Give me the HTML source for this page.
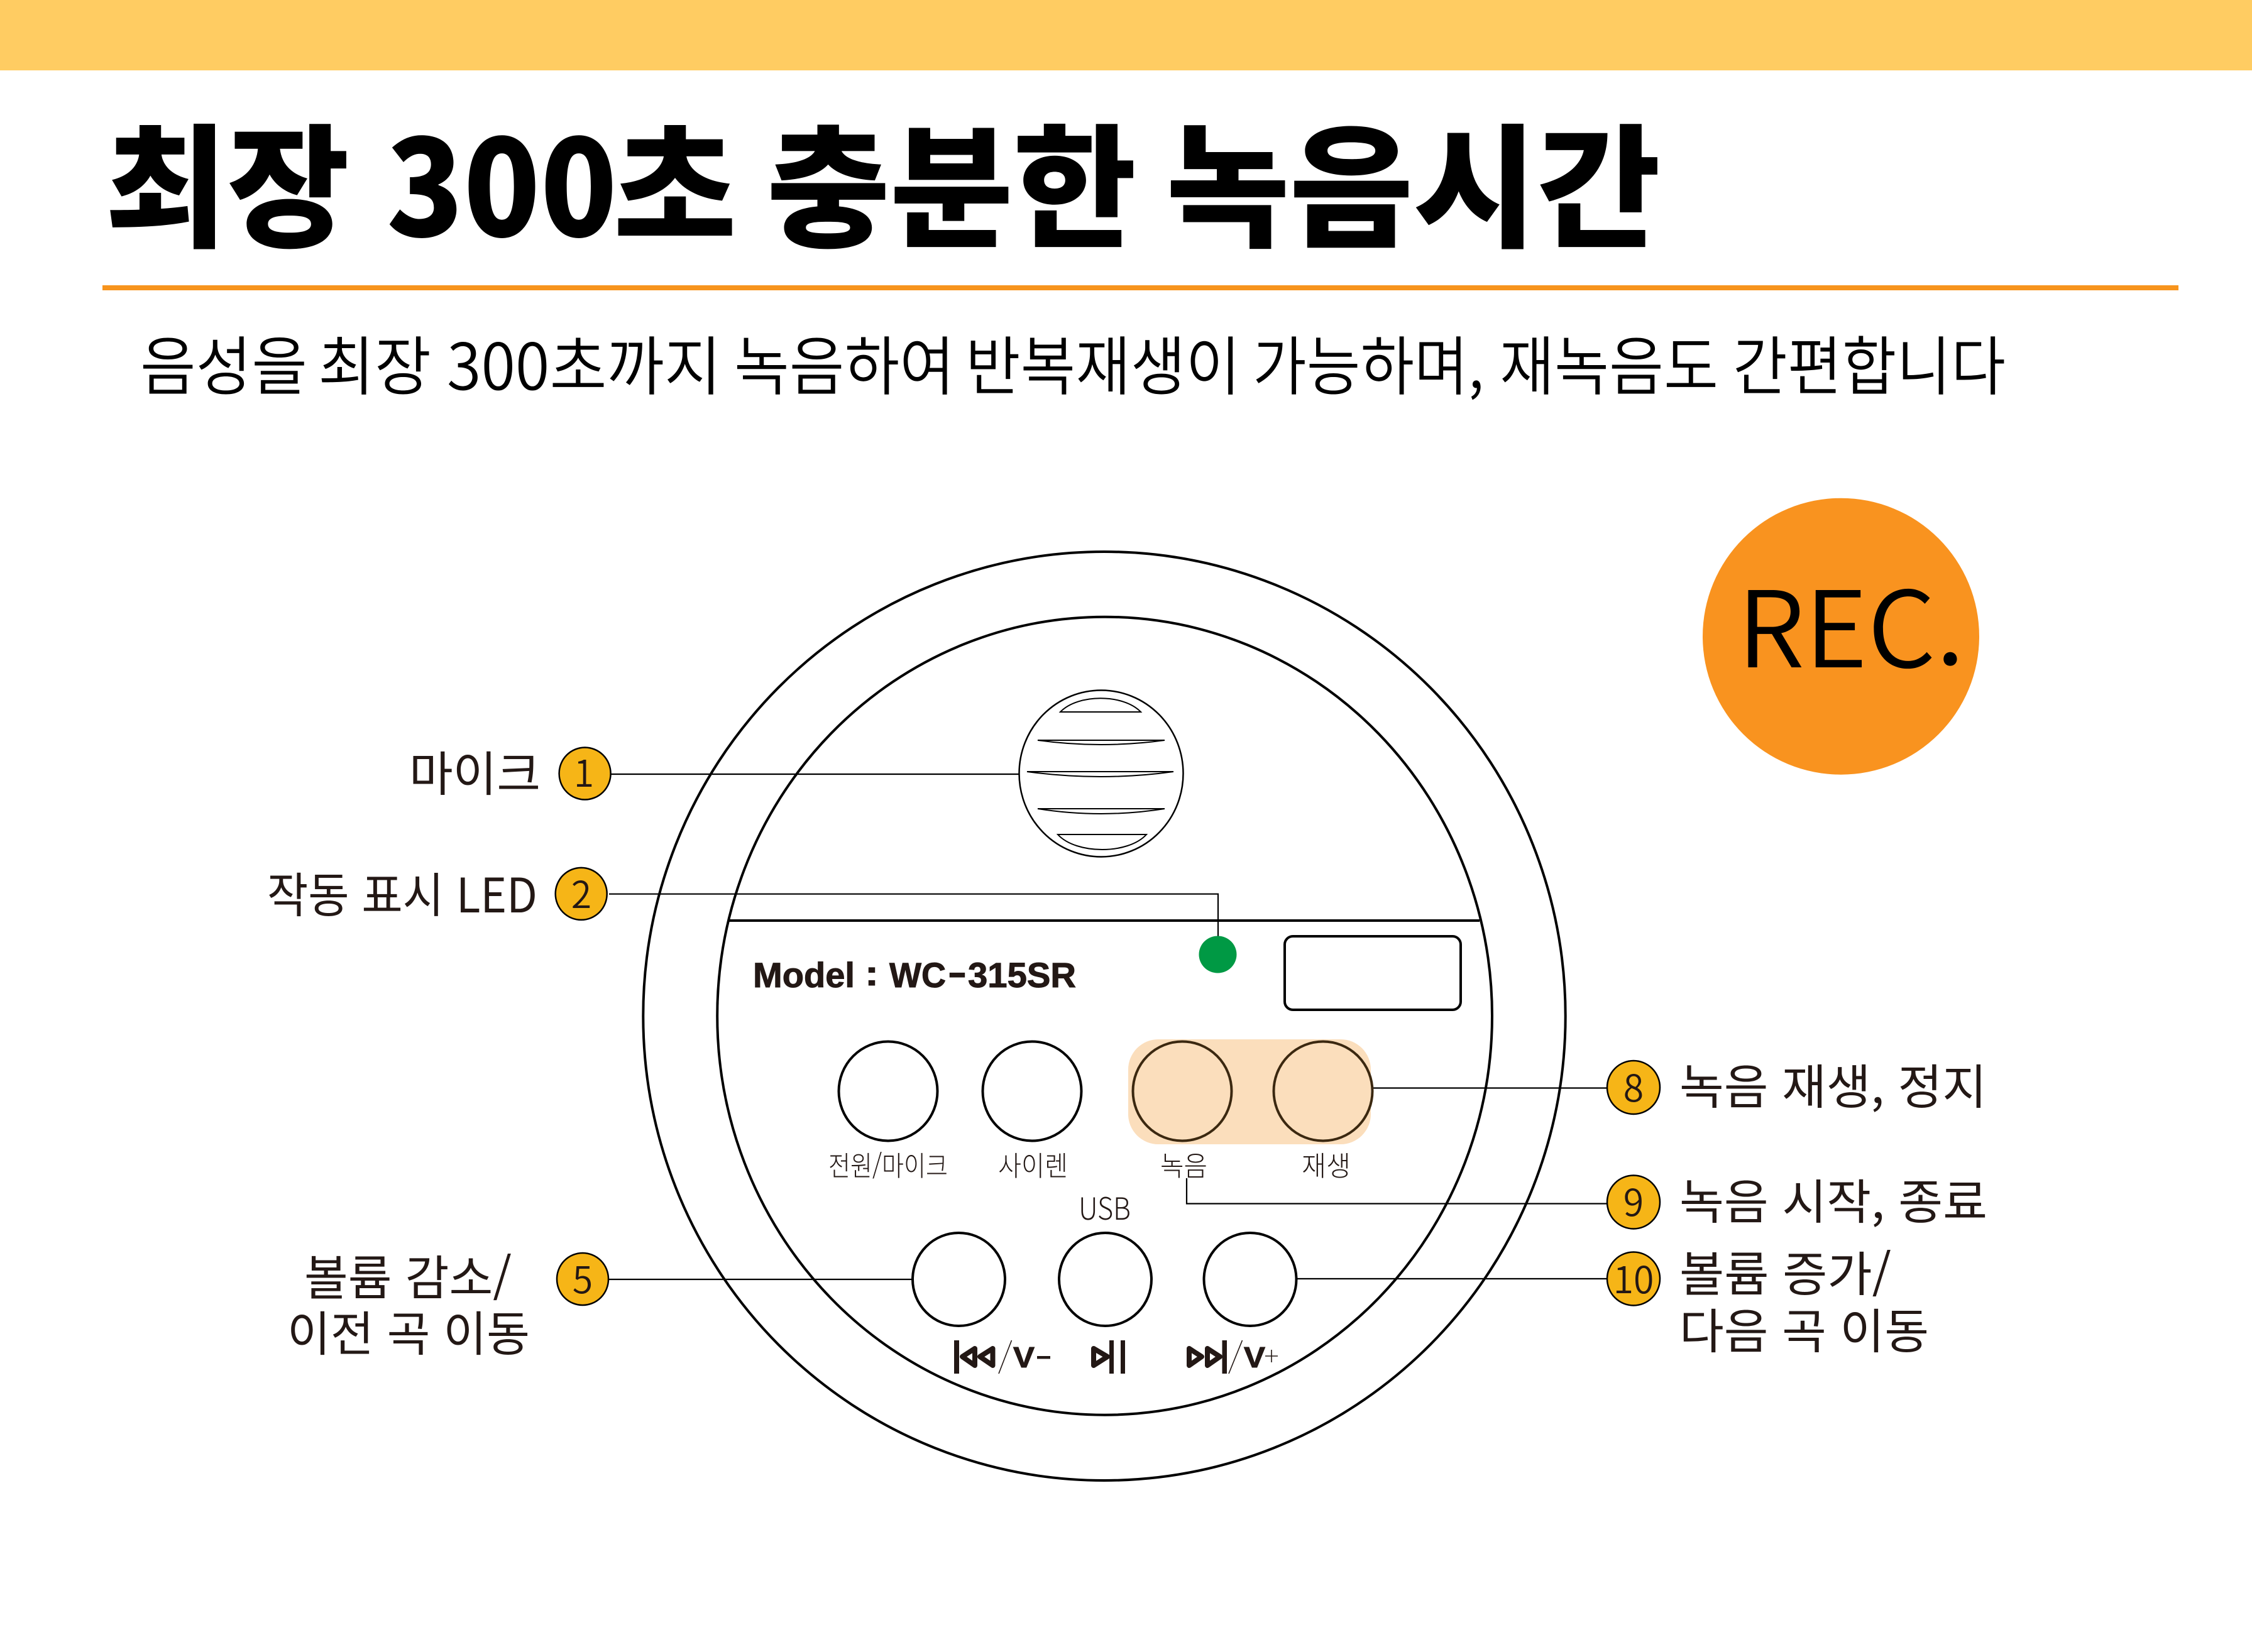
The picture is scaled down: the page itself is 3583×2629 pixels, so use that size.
<!DOCTYPE html>
<html lang="ko"><head><meta charset="utf-8"><title>최장 300초 충분한 녹음시간</title>
<style>
html,body{margin:0;padding:0;background:#fff;width:3583px;height:2629px;overflow:hidden}
svg{display:block}
text{font-family:"Noto Sans CJK KR","Liberation Sans",sans-serif;fill:#231815}
.lb{font-size:76px;font-weight:400}
.n{font-size:59px;font-weight:350;text-anchor:middle}
.sm{font-size:44px;font-weight:300}
.h{font-size:212px;font-weight:900;fill:#000}
.s{font-size:102px;font-weight:350;fill:#000}
.lib{font-family:"Liberation Sans",sans-serif;font-weight:700;font-size:56px;stroke:#231815;stroke-width:1}
.l{stroke:#000;stroke-width:2.2;fill:none}
.b{fill:#F6B517;stroke:#000;stroke-width:2.5}
.k{stroke:#000;stroke-width:4;fill:none}
.m{stroke:#000;stroke-width:2;fill:#fff}
.t{stroke:#231815;stroke-width:8;fill:#fff;stroke-linejoin:round}
</style></head><body>
<svg width="3583" height="2629" viewBox="0 0 3583 2629" xmlns="http://www.w3.org/2000/svg">
<rect width="3583" height="2629" fill="#fff"/>
<rect width="3583" height="112" fill="#FFCC62"/>
<text class="h" x="167" y="376" textLength="389" lengthAdjust="spacingAndGlyphs">최장</text>
<text class="h" x="615" y="376" textLength="367" lengthAdjust="spacingAndGlyphs">300</text>
<text class="h" x="976" y="376" textLength="196" lengthAdjust="spacingAndGlyphs">초</text>
<text class="h" x="1220" y="376" textLength="588" lengthAdjust="spacingAndGlyphs">충분한</text>
<text class="h" x="1855" y="376" textLength="787" lengthAdjust="spacingAndGlyphs">녹음시간</text>
<rect x="163" y="454" width="3303" height="8" fill="#F7941D"/>

<text class="s" x="223" y="620" textLength="266" lengthAdjust="spacingAndGlyphs">음성을</text>
<text class="s" x="506" y="620" textLength="180" lengthAdjust="spacingAndGlyphs">최장</text>
<text class="s" x="711" y="620" textLength="437" lengthAdjust="spacingAndGlyphs">300초까지</text>
<text class="s" x="1168" y="620" textLength="351" lengthAdjust="spacingAndGlyphs">녹음하여</text>
<text class="s" x="1536" y="620" textLength="438" lengthAdjust="spacingAndGlyphs">반복재생이</text>
<text class="s" x="1993" y="620" textLength="368" lengthAdjust="spacingAndGlyphs">가능하며,</text>
<text class="s" x="2386" y="620" textLength="348" lengthAdjust="spacingAndGlyphs">재녹음도</text>
<text class="s" x="2757" y="620" textLength="434" lengthAdjust="spacingAndGlyphs">간편합니다</text>

<circle cx="2929" cy="1012.7" r="220" fill="#F9931F"/>
<text x="2764" y="1062" font-size="168" font-weight="350" style="fill:#000" textLength="362" lengthAdjust="spacingAndGlyphs">REC.</text>

<ellipse class="k" cx="1757" cy="1617" rx="733.7" ry="739"/>
<ellipse class="k" cx="1757.6" cy="1616.7" rx="616.4" ry="635"/>
<line x1="1160" y1="1465" x2="2354" y2="1465" stroke="#000" stroke-width="4"/>

<!-- mic -->
<ellipse class="k" style="stroke-width:2.5" cx="1752" cy="1231" rx="130.5" ry="132.5" fill="#fff"/>
<path class="m" d="M1687 1133 C1715 1104,1787 1104,1815 1133 Z"/>
<path class="m" d="M1651 1178 H1853 Q1752 1192 1651 1178 Z"/>
<path class="m" d="M1634 1228 H1867 Q1752 1244 1634 1228 Z"/>
<path class="m" d="M1651 1287 H1853 Q1752 1303 1651 1287 Z"/>
<path class="m" d="M1683 1328 H1824 C1795 1360,1712 1360,1683 1328 Z"/>

<!-- connectors -->
<path class="l" d="M972 1232 H1621"/>
<path class="l" d="M969 1422.7 H1938 V1490"/>
<path class="l" d="M968 2036 H1451"/>
<path class="l" d="M2064 2035 H2557"/>
<path class="l" d="M2184 1731.5 H2557"/>
<path class="l" d="M1888 1875 V1915.5 H2557"/>

<!-- LED + display -->
<ellipse cx="1937.5" cy="1519" rx="30" ry="29.5" fill="#009944"/>
<rect x="2044" y="1490" width="280" height="117" rx="13" ry="13" fill="#fff" stroke="#000" stroke-width="4"/>
<text class="lib" x="1198" y="1571" textLength="162" lengthAdjust="spacingAndGlyphs">Model</text>
<text class="lib" x="1376" y="1568" textLength="22" lengthAdjust="spacingAndGlyphs">:</text>
<text class="lib" x="1415" y="1571" textLength="90" lengthAdjust="spacingAndGlyphs">WC</text>
<text class="lib" x="1508" y="1566" textLength="30" lengthAdjust="spacingAndGlyphs">-</text>
<text class="lib" x="1540" y="1571" textLength="172" lengthAdjust="spacingAndGlyphs">315SR</text>

<!-- buttons row 1 -->
<rect x="1795" y="1654" width="386" height="167" rx="48" ry="48" fill="#FBDEBC"/>
<ellipse class="k" cx="1413" cy="1736.5" rx="78.5" ry="79"/>
<ellipse class="k" cx="1642" cy="1736.5" rx="78.5" ry="79"/>
<ellipse class="k" style="stroke:#3B2810" cx="1881" cy="1736.5" rx="78.5" ry="79"/>
<ellipse class="k" style="stroke:#3B2810" cx="2105" cy="1736.5" rx="78.5" ry="79"/>
<text class="sm" x="1318" y="1871" textLength="190" lengthAdjust="spacingAndGlyphs">전원/마이크</text>
<text class="sm" x="1588" y="1871" textLength="111" lengthAdjust="spacingAndGlyphs">사이렌</text>
<text class="sm" x="1846" y="1871" textLength="75" lengthAdjust="spacingAndGlyphs">녹음</text>
<text class="sm" x="2071" y="1871" textLength="78" lengthAdjust="spacingAndGlyphs">재생</text>

<!-- buttons row 2 -->
<text x="1716" y="1941" font-size="49" font-weight="300" textLength="83" lengthAdjust="spacingAndGlyphs">USB</text>
<ellipse class="k" cx="1525.5" cy="2036" rx="73.5" ry="74" fill="#fff"/>
<ellipse class="k" cx="1758.5" cy="2036" rx="73.5" ry="74"/>
<ellipse class="k" cx="1989" cy="2036" rx="73.5" ry="74"/>

<rect x="1518" y="2133" width="8" height="53" fill="#231815"/>
<path class="t" d="M1531 2159 L1551 2146 V2173 Z"/>
<path class="t" d="M1559 2159 L1579.5 2146 V2173 Z"/>
<line x1="1609.5" y1="2133" x2="1589" y2="2186" stroke="#231815" stroke-width="1.6"/>
<text class="lib" x="1612" y="2176" style="font-size:46px" textLength="34" lengthAdjust="spacingAndGlyphs">V</text>
<rect x="1650" y="2158" width="21" height="4.5" fill="#231815"/>

<path class="t" d="M1740 2146 L1762 2159 L1740 2173 Z"/>
<rect x="1765" y="2133" width="7" height="53" fill="#231815"/>
<rect x="1783" y="2133" width="7" height="53" fill="#231815"/>

<path class="t" d="M1892 2146 L1912 2159 L1892 2173 Z"/>
<path class="t" d="M1921 2146 L1941 2159 L1921 2173 Z"/>
<rect x="1944.5" y="2133" width="7.5" height="53" fill="#231815"/>
<line x1="1976.5" y1="2133" x2="1955" y2="2186" stroke="#231815" stroke-width="1.6"/>
<text class="lib" x="1979" y="2176" style="font-size:46px" textLength="34" lengthAdjust="spacingAndGlyphs">V</text>
<path d="M2013 2158 H2033 M2023 2148 V2168" stroke="#231815" stroke-width="1.6" fill="none"/>

<!-- badges -->
<ellipse class="b" cx="930.6" cy="1231" rx="41" ry="41.5"/><text class="n" x="929" y="1252">1</text>
<ellipse class="b" cx="924.7" cy="1422.4" rx="41" ry="41.5"/><text class="n" x="925" y="1445">2</text>
<ellipse class="b" cx="927" cy="2035.5" rx="41" ry="41.5"/><text class="n" x="927" y="2058">5</text>
<ellipse class="b" cx="2599" cy="1730.5" rx="42" ry="42.5"/><text class="n" x="2599" y="1753">8</text>
<ellipse class="b" cx="2599" cy="1913" rx="42" ry="42.5"/><text class="n" x="2599" y="1935">9</text>
<ellipse class="b" cx="2599" cy="2035" rx="42" ry="42.5"/><text class="n" x="2599" y="2058">10</text>

<!-- labels -->
<text class="lb" x="651" y="1259" textLength="209" lengthAdjust="spacingAndGlyphs">마이크</text>
<text class="lb" x="425" y="1452" textLength="430" lengthAdjust="spacingAndGlyphs">작동 표시 LED</text>
<text class="lb" x="484" y="2061" textLength="330" lengthAdjust="spacingAndGlyphs">볼륨 감소/</text>
<text class="lb" x="457" y="2150" textLength="386" lengthAdjust="spacingAndGlyphs">이전 곡 이동</text>
<text class="lb" x="2672" y="1757" textLength="489" lengthAdjust="spacingAndGlyphs">녹음 재생, 정지</text>
<text class="lb" x="2672" y="1940" textLength="490" lengthAdjust="spacingAndGlyphs">녹음 시작, 종료</text>
<text class="lb" x="2672" y="2055" textLength="337" lengthAdjust="spacingAndGlyphs">볼륨 증가/</text>
<text class="lb" x="2672" y="2146" textLength="397" lengthAdjust="spacingAndGlyphs">다음 곡 이동</text>
</svg>
</body></html>
